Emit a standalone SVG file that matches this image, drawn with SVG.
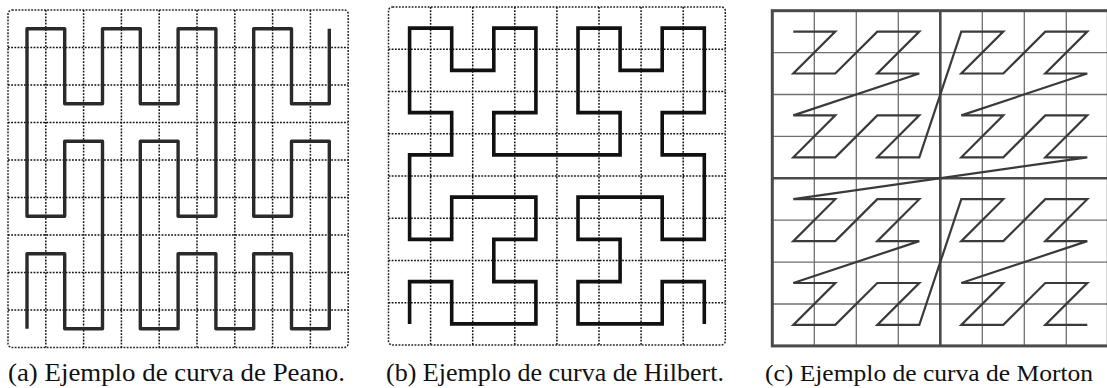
<svg xmlns="http://www.w3.org/2000/svg" width="1107" height="388" viewBox="0 0 1107 388">
<style>
.dot{fill:none;stroke:#111;stroke-width:1.5;stroke-dasharray:1.8 1.4}
.border{fill:none;stroke:#222;stroke-width:1.5;stroke-dasharray:1.8 1.4}
.curve{fill:none;stroke:#2a2a2a;stroke-width:3.4;stroke-linejoin:round}
.hcurve{fill:none;stroke:#111;stroke-width:3.6;stroke-linejoin:miter}
.thin{fill:none;stroke:#707070;stroke-width:1.3}
.thick{fill:none;stroke:#4a4a4a;stroke-width:2.6}
.zc{fill:none;stroke:#3a3a3a;stroke-width:2.2;stroke-linejoin:miter}
.cap{font-family:"Liberation Serif","Times New Roman",serif;font-size:26px;fill:#111}
</style>
<g id="peano">
<rect class="border" x="8" y="10" width="340.2" height="337.5" rx="4"/>
<path class="dot" d="M45.8 10V347.5M83.6 10V347.5M121.4 10V347.5M159.2 10V347.5M197 10V347.5M234.8 10V347.5M272.6 10V347.5M310.4 10V347.5M8 47.5H348.2M8 85H348.2M8 122.5H348.2M8 160H348.2M8 197.5H348.2M8 235H348.2M8 272.5H348.2M8 310H348.2"/>
<polyline class="curve" points="27,328.75 27,253.75 64.7,253.75 64.7,328.75 102.5,328.75 102.5,141.25 64.7,141.25 64.7,216.25 27,216.25 27,28.75 64.7,28.75 64.7,103.75 102.5,103.75 102.5,28.75 140.3,28.75 140.3,103.75 178.1,103.75 178.1,28.75 215.9,28.75 215.9,216.25 178.1,216.25 178.1,141.25 140.3,141.25 140.3,328.75 178.1,328.75 178.1,253.75 215.9,253.75 215.9,328.75 253.7,328.75 253.7,253.75 291.5,253.75 291.5,328.75 329.3,328.75 329.3,141.25 291.5,141.25 291.5,216.25 253.7,216.25 253.7,28.75 291.5,28.75 291.5,103.75 329.3,103.75 329.3,28.75"/>
</g>
<g id="hilbert">
<rect class="border" x="388.5" y="7" width="336.8" height="338" rx="4"/>
<path class="dot" d="M430.6 7V345M472.7 7V345M514.8 7V345M556.9 7V345M599 7V345M641.1 7V345M683.2 7V345M388.5 49.25H725.3M388.5 91.5H725.3M388.5 133.75H725.3M388.5 176H725.3M388.5 218.25H725.3M388.5 260.5H725.3M388.5 302.75H725.3"/>
<polyline class="hcurve" points="409.6,323.9 409.6,281.6 451.7,281.6 451.7,323.9 535.9,323.9 535.9,281.6 493.8,281.6 493.8,239.4 535.9,239.4 535.9,197.1 451.7,197.1 451.7,239.4 409.6,239.4 409.6,154.9 451.7,154.9 451.7,112.6 409.6,112.6 409.6,28.1 451.7,28.1 451.7,70.4 493.8,70.4 493.8,28.1 535.9,28.1 535.9,112.6 493.8,112.6 493.8,154.9 620.1,154.9 620.1,112.6 578,112.6 578,28.1 620.1,28.1 620.1,70.4 662.2,70.4 662.2,28.1 704.3,28.1 704.3,112.6 662.2,112.6 662.2,154.9 704.3,154.9 704.3,239.4 662.2,239.4 662.2,197.1 578,197.1 578,239.4 620.1,239.4 620.1,281.6 578,281.6 578,323.9 662.2,323.9 662.2,281.6 704.3,281.6 704.3,323.9"/>
</g>
<g id="morton">
<path class="thin" d="M814.3 10.7V345.9M856.3 10.7V345.9M898.3 10.7V345.9M982.3 10.7V345.9M1024.3 10.7V345.9M1066.3 10.7V345.9M772.3 52.6H1108.3M772.3 94.5H1108.3M772.3 136.4H1108.3M772.3 220.2H1108.3M772.3 262.1H1108.3M772.3 304H1108.3"/>
<path class="thick" d="M940.3 10.7V345.9M772.3 178.3H1108.3"/>
<rect class="thick" x="772.3" y="10.7" width="336" height="335.2" style="stroke-width:3"/>
<polyline class="zc" points="793.3,31.6 835.3,31.6 793.3,73.5 835.3,73.5 877.3,31.6 919.3,31.6 877.3,73.5 919.3,73.5 793.3,115.4 835.3,115.4 793.3,157.3 835.3,157.3 877.3,115.4 919.3,115.4 877.3,157.3 919.3,157.3 961.3,31.6 1003.3,31.6 961.3,73.5 1003.3,73.5 1045.3,31.6 1087.3,31.6 1045.3,73.5 1087.3,73.5 961.3,115.4 1003.3,115.4 961.3,157.3 1003.3,157.3 1045.3,115.4 1087.3,115.4 1045.3,157.3 1087.3,157.3 793.3,199.2 835.3,199.2 793.3,241.1 835.3,241.1 877.3,199.2 919.3,199.2 877.3,241.1 919.3,241.1 793.3,283 835.3,283 793.3,324.9 835.3,324.9 877.3,283 919.3,283 877.3,324.9 919.3,324.9 961.3,199.2 1003.3,199.2 961.3,241.1 1003.3,241.1 1045.3,199.2 1087.3,199.2 1045.3,241.1 1087.3,241.1 961.3,283 1003.3,283 961.3,324.9 1003.3,324.9 1045.3,283 1087.3,283 1045.3,324.9 1087.3,324.9"/>
</g>
<g id="captions">
<text class="cap" x="8" y="381" textLength="337" lengthAdjust="spacingAndGlyphs">(a) Ejemplo de curva de Peano.</text>
<text class="cap" x="386" y="381" textLength="338" lengthAdjust="spacingAndGlyphs">(b) Ejemplo de curva de Hilbert.</text>
<text class="cap" x="765" y="381" textLength="328" lengthAdjust="spacingAndGlyphs" style="font-size:24px">(c) Ejemplo de curva de Morton</text>
</g>
</svg>
